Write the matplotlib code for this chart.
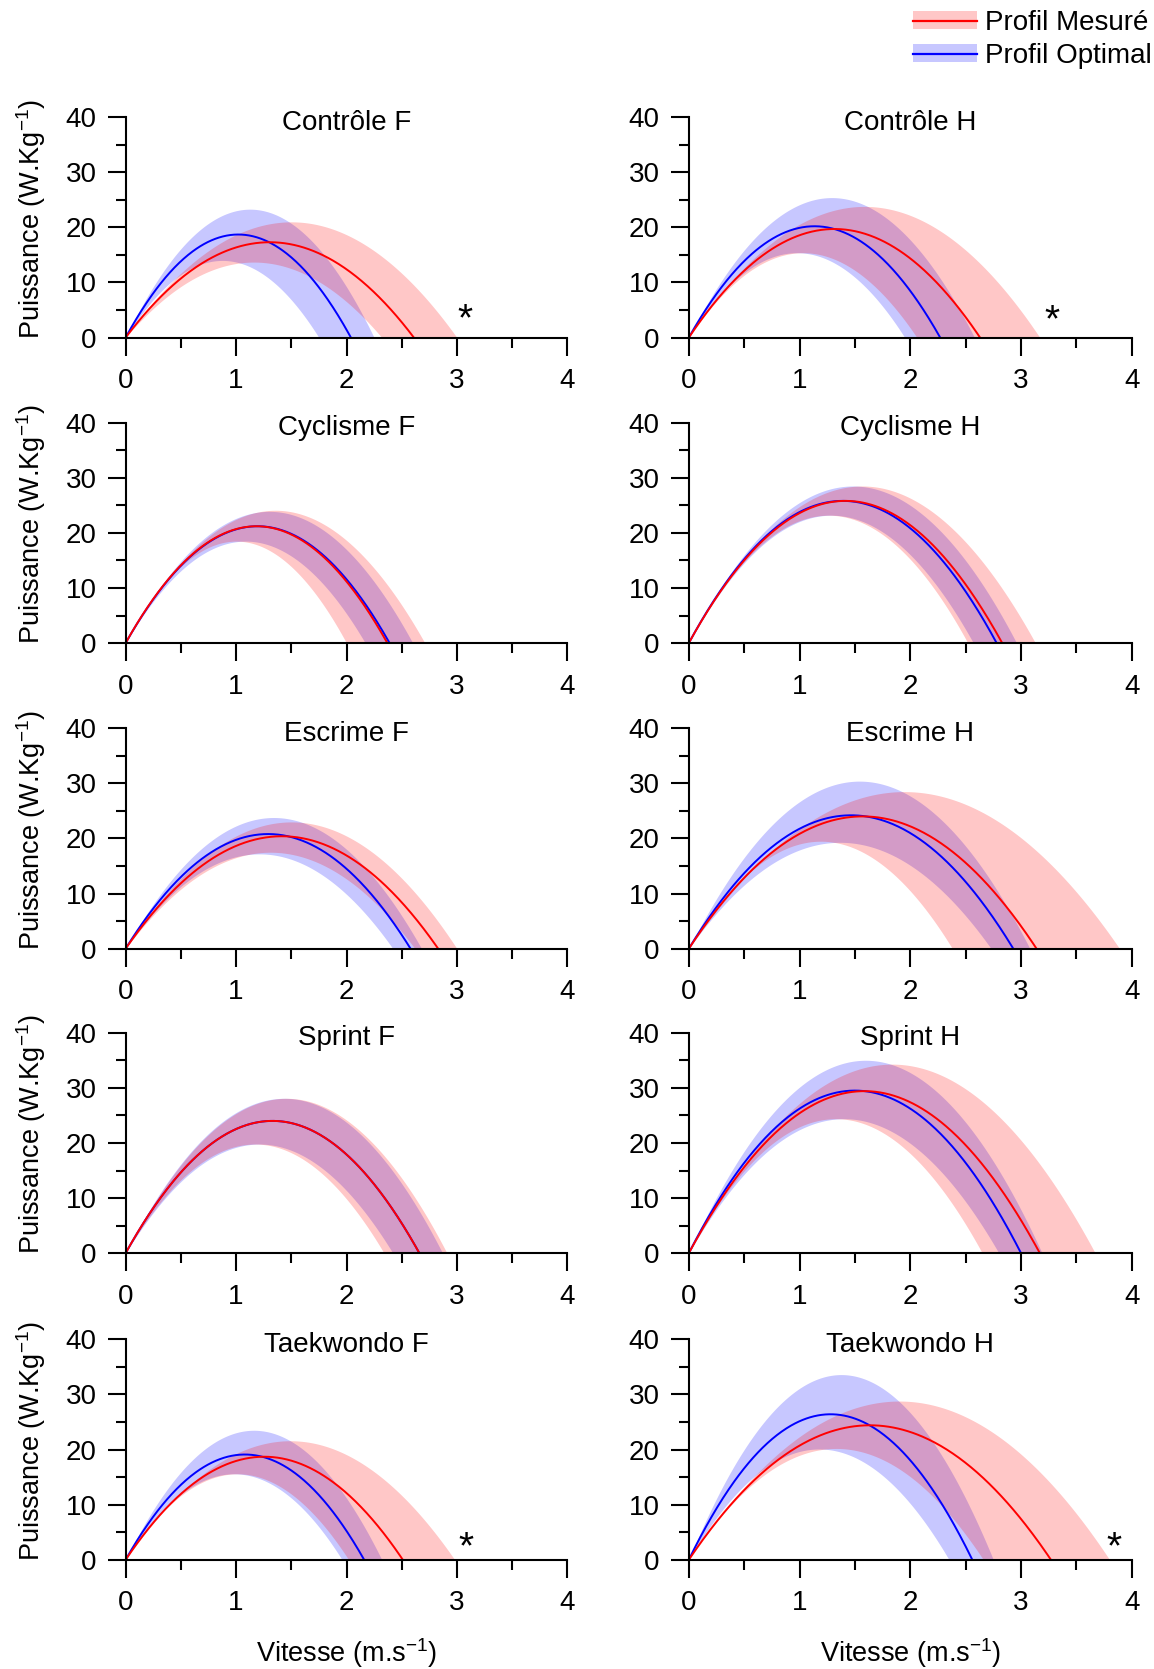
import numpy as np
import matplotlib
matplotlib.use("Agg")
import matplotlib.pyplot as plt
from matplotlib.patches import Patch
from matplotlib.lines import Line2D
from matplotlib.ticker import MultipleLocator

plt.rcParams['font.family'] = ['Liberation Sans', 'DejaVu Sans']
plt.rcParams['mathtext.fontset'] = 'custom'
plt.rcParams['mathtext.rm'] = 'Liberation Sans'
plt.rcParams['mathtext.it'] = 'Liberation Sans:italic'
plt.rcParams['mathtext.default'] = 'regular'

# ---- data ----
names = ['Contrôle F', 'Contrôle H', 'Cyclisme F', 'Cyclisme H', 'Escrime F',
         'Escrime H', 'Sprint F', 'Sprint H', 'Taekwondo F', 'Taekwondo H']

# measured profile: mean, upper and lower (v0 in m/s, Pmax in W/kg)
meas_v0 = [2.61, 2.63, 2.37, 2.83, 2.83, 3.14, 2.66, 3.17, 2.51, 3.27]
meas_pmax = [17.3, 19.7, 21.2, 25.8, 20.4, 24.0, 24.0, 29.4, 18.7, 24.4]
meas_v0_hi = [3.00, 3.17, 2.71, 3.13, 3.00, 3.89, 2.91, 3.67, 2.98, 3.80]
meas_pmax_hi = [21.0, 23.8, 24.1, 28.5, 23.0, 28.5, 28.1, 34.3, 21.6, 28.8]
meas_v0_lo = [2.32, 2.06, 2.00, 2.52, 2.62, 2.38, 2.34, 2.65, 2.02, 2.66]
meas_pmax_lo = [13.7, 15.4, 18.5, 23.2, 17.5, 19.5, 19.8, 24.4, 15.6, 20.2]

# optimal profile: mean, upper and lower
opt_v0 = [2.04, 2.27, 2.39, 2.78, 2.58, 2.93, 2.66, 3.00, 2.16, 2.56]
opt_pmax = [18.7, 20.2, 21.2, 25.8, 20.8, 24.2, 24.0, 29.5, 19.1, 26.4]
opt_v0_hi = [2.25, 2.58, 2.60, 2.96, 2.68, 3.08, 2.87, 3.19, 2.32, 2.75]
opt_pmax_hi = [23.3, 25.4, 23.9, 28.5, 23.8, 30.4, 28.1, 35.0, 23.5, 33.6]
opt_v0_lo = [1.75, 1.95, 2.17, 2.57, 2.42, 2.73, 2.42, 2.80, 1.96, 2.35]
opt_pmax_lo = [14.0, 15.4, 18.5, 23.2, 17.2, 19.3, 19.8, 24.4, 15.6, 20.1]

# significance markers (panel index, x, y)
star_panels = [0, 1, 8, 9]
star_x = [3.07, 3.28, 3.08, 3.84]
star_y = [4.6, 4.3, 3.4, 3.4]

x_ticks = [0, 1, 2, 3, 4]
y_ticks = [0, 10, 20, 30, 40]

RED = '#FF0000'
BLUE = '#0000FF'
BAND_A = 0.22
FS = 20


def profile(v, v0, pmax):
    p = 4.0 * pmax * (v / v0) * (1.0 - v / v0)
    return np.where(v <= v0, p, 0.0)


W, H = 1154, 1669
fig = plt.figure(figsize=(W / 100, H / 100), dpi=100)

col_left = [125.6, 688.8]
col_width = [441.8, 443.0]
row_top = [117.1, 422.6, 728.2, 1032.7, 1339.3]
row_h = 220.5

for i, name in enumerate(names):
    r, c = divmod(i, 2)
    ax = fig.add_axes([col_left[c] / W, 1 - (row_top[r] + row_h) / H,
                       col_width[c] / W, row_h / H])

    # optimal band + line
    vmax = max(opt_v0_hi[i], opt_v0_lo[i])
    v = np.linspace(0, vmax, 400)
    hi = profile(v, opt_v0_hi[i], opt_pmax_hi[i])
    lo = profile(v, opt_v0_lo[i], opt_pmax_lo[i])
    ax.fill_between(v, lo, hi, color=BLUE, alpha=BAND_A, lw=0)
    vm = np.linspace(0, opt_v0[i], 300)
    ax.plot(vm, profile(vm, opt_v0[i], opt_pmax[i]), color=BLUE, lw=1.4)

    # measured band + line
    vmax = max(meas_v0_hi[i], meas_v0_lo[i])
    v = np.linspace(0, vmax, 400)
    hi = profile(v, meas_v0_hi[i], meas_pmax_hi[i])
    lo = profile(v, meas_v0_lo[i], meas_pmax_lo[i])
    ax.fill_between(v, lo, hi, color=RED, alpha=BAND_A, lw=0)
    vm = np.linspace(0, meas_v0[i], 300)
    ax.plot(vm, profile(vm, meas_v0[i], meas_pmax[i]), color=RED, lw=1.4)

    if i in star_panels:
        k = star_panels.index(i)
        ax.text(star_x[k], star_y[k] - 1.4, '*', ha='center', va='center',
                fontsize=28, color='black')

    ax.set_xlim(0, 4)
    ax.set_ylim(0, 40)
    ax.set_xticks(x_ticks)
    ax.set_yticks(y_ticks)
    ax.xaxis.set_minor_locator(MultipleLocator(0.5))
    ax.yaxis.set_minor_locator(MultipleLocator(5))
    for s in ['top', 'right']:
        ax.spines[s].set_visible(False)
    for s in ['left', 'bottom']:
        ax.spines[s].set_linewidth(1.5)
    ax.tick_params(which='major', direction='out', length=13, width=1.5,
                   labelsize=FS)
    ax.tick_params(which='minor', direction='out', length=7, width=1.5)
    ax.tick_params(axis='x', which='major', pad=9)
    ax.tick_params(axis='y', which='major', pad=8)

    ax.text(0.5, 0.975, name, transform=ax.transAxes, ha='center',
            va='center', fontsize=FS)

    if c == 0:
        ax.set_ylabel('Puissance (W.Kg$^{-1}$)', fontsize=19.5)
        ax.yaxis.set_label_coords(-0.176, 0.54)
    if r == 4:
        ax.set_xlabel('Vitesse (m.s$^{-1}$)', fontsize=19.5)
        ax.xaxis.set_label_coords(0.5, -0.345)

handles = [
    (Patch(facecolor=RED, alpha=BAND_A, lw=0), Line2D([], [], color=RED, lw=1.6)),
    (Patch(facecolor=BLUE, alpha=BAND_A, lw=0), Line2D([], [], color=BLUE, lw=1.6)),
]
fig.legend(handles, ['Profil Mesuré', 'Profil Optimal'],
           loc='upper right', bbox_to_anchor=(0.998, 0.994),
           frameon=False, fontsize=FS, handlelength=2.3, handleheight=0.6,
           handletextpad=0.3, labelspacing=0.25, borderpad=0, borderaxespad=0)

fig.savefig('out.png', dpi=100, facecolor='white')
